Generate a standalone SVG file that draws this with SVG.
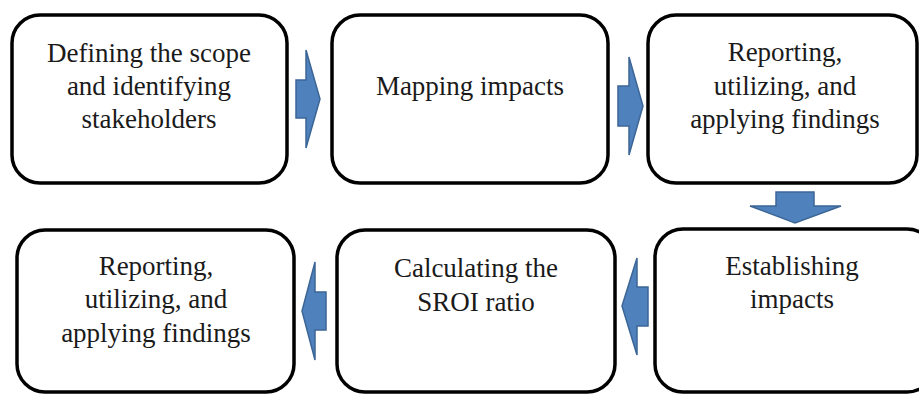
<svg xmlns="http://www.w3.org/2000/svg" width="919" height="394" viewBox="0 0 919 394">
<style>
.box{fill:#ffffff;stroke:#000000;stroke-width:3.5}
.t{font-family:"Liberation Serif","Times New Roman",serif;font-size:27px;fill:#1a1a1a;text-anchor:middle}
.arr{fill:#4F81BD;stroke:#3C6696;stroke-width:1.5;stroke-linejoin:miter}
</style>
<rect width="919" height="394" fill="#ffffff"/>
<g id="connectors">
<polygon class="arr" points="296,80 306,80 306,50 320,99 306,148 306,118 296,118"/>
<polygon class="arr" points="618,86 629,86 629,57 643,106 629,155 629,126 618,126"/>
<polygon class="arr" points="776,192 814,192 814,206 841,206 795,223 750,206 776,206"/>
<polygon class="arr" points="648,287 637,287 637,258 622,306 637,355 637,326 648,326"/>
<polygon class="arr" points="326,292 315,292 315,262 302,311 315,360 315,330 326,330"/>
</g>
<g id="node1">
<rect class="box" x="12" y="15" width="275" height="168" rx="28"/>
<text class="t" x="149" y="62">Defining the scope</text>
<text class="t" x="149" y="95">and identifying</text>
<text class="t" x="149" y="128">stakeholders</text>
</g>
<g id="node2">
<rect class="box" x="332" y="15" width="276" height="168" rx="28"/>
<text class="t" x="470" y="95">Mapping impacts</text>
</g>
<g id="node3">
<rect class="box" x="648" y="15" width="269" height="168" rx="28"/>
<text class="t" x="785" y="61">Reporting,</text>
<text class="t" x="785" y="95">utilizing, and</text>
<text class="t" x="785" y="128">applying findings</text>
</g>
<g id="node4">
<rect class="box" x="655" y="229" width="280" height="163" rx="28"/>
<text class="t" x="792" y="275">Establishing</text>
<text class="t" x="792" y="308">impacts</text>
</g>
<g id="node5">
<rect class="box" x="337" y="230" width="278" height="162" rx="28"/>
<text class="t" x="476" y="277">Calculating the</text>
<text class="t" x="476" y="311">SROI ratio</text>
</g>
<g id="node6">
<rect class="box" x="17" y="230" width="277" height="162" rx="28"/>
<text class="t" x="156" y="275">Reporting,</text>
<text class="t" x="156" y="308">utilizing, and</text>
<text class="t" x="156" y="342">applying findings</text>
</g>
</svg>
